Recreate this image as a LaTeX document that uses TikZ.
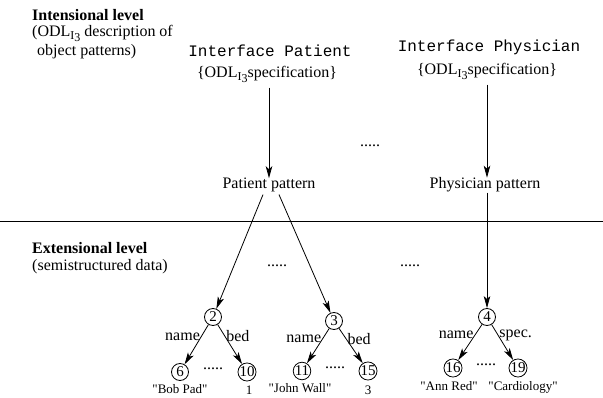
\documentclass[tikz,border=0pt]{standalone}
\usepackage{fontspec}
\setmainfont{Liberation Serif}
\setmonofont{Liberation Mono}
\usetikzlibrary{arrows.meta}

% ODL with its nested I_3 subscript (kept out of the line's depth)
\newcommand{\odlname}{ODL\smash{\raisebox{-2.5pt}{\fontsize{12}{12}\selectfont I\raisebox{-2.5pt}{3}}}}
\newcommand{\qt}[1]{\textquotedbl#1\textquotedbl}

\begin{document}
\begin{tikzpicture}[x=1pt,y=-1pt,
  txt/.style={font=\fontsize{16}{19}\selectfont, inner sep=0pt},
  code/.style={font=\fontsize{16}{19}\selectfont\ttfamily, inner sep=0pt},
  small/.style={font=\fontsize{13}{15}\selectfont, inner sep=0pt},
  obj/.style={circle, draw, line width=0.8pt, minimum size=17pt, inner sep=0pt,
              font=\fontsize{15}{15}\selectfont},
  link/.style={line width=0.8pt, -{Stealth[length=12pt,width=6.5pt,inset=3pt]}},
  lab/.style={font=\fontsize{16}{19}\selectfont, inner sep=1pt},
  rule/.style={line width=0.8pt}
]
\useasboundingbox (0,0) rectangle (603,398);

% level captions
\node[txt, anchor=base west] (intHead) at (32,21) {\bfseries Intensional level};
\node[txt, anchor=base west] (intSub1) at (32,37) {(\odlname{} description of};
\node[txt, anchor=base west] (intSub2) at (37,56) {object patterns)};
\node[txt, anchor=base west] (extHead) at (32,254) {\bfseries Extensional level};
\node[txt, anchor=base west] (extSub) at (32,271) {(semistructured data)};

% separator between the two levels
\coordinate (ruleL) at (0,221.7);
\coordinate (ruleR) at (603,221.7);
\draw[rule] (ruleL) -- (ruleR);

% interfaces
\node[code, anchor=base] (ifP) at (270,57) {Interface Patient};
\node[txt, anchor=base] (specP) at (267,78) {\{\odlname specification\}};
\node[code, anchor=base] (ifPh) at (489,52) {Interface Physician};
\node[txt, anchor=base] (specPh) at (487,75) {\{\odlname specification\}};

% patterns
\node[txt, anchor=base] (patP) at (269,189) {Patient pattern};
\node[txt, anchor=base] (patPh) at (485,189) {Physician pattern};
\node[txt] (dotsTop) at (370,146) {.....};

\draw[link] ([yshift=-6pt]specP.south -| patP.north) -- (patP.north);
\draw[link] ([yshift=-6pt]specPh.south) -- (specPh.south |- patPh.north);

% objects
\node[obj] (n2) at (213,317) {2};
\node[obj] (n3) at (334,321) {3};
\node[obj] (n4) at (487,317) {4};
\node[obj] (n6) at (180,372) {6};
\node[obj] (n10) at (247,372) {10};
\node[obj] (n11) at (302,371) {11};
\node[obj] (n15) at (368,371) {15};
\node[obj] (n16) at (453,368) {16};
\node[obj] (n19) at (518,368) {19};

\node[txt] (dotsMid) at (277,266) {.....};
\node[txt] (dotsRight) at (410,266) {.....};
\node[txt] (dotsA) at (213,369) {.....};
\node[txt] (dotsB) at (335,368) {.....};
\node[txt] (dotsC) at (486,365) {.....};

% pattern instances
\draw[link] ([xshift=-6pt,yshift=-2pt]patP.south) -- (n2);
\draw[link] ([xshift=10pt,yshift=-2pt]patP.south) -- (n3);
\draw[link] (n4 |- patPh.south) -- (n4);

% attributes
\draw[link] (n2) -- node[lab, pos=0.3, anchor=east] (l2a) {name} (n6);
\draw[link] (n2) -- node[lab, pos=0.3, anchor=west] (l2b) {bed} (n10);
\draw[link] (n3) -- node[lab, pos=0.3, anchor=east] (l3a) {name} (n11);
\draw[link] (n3) -- node[lab, pos=0.3, anchor=west] (l3b) {bed} (n15);
\draw[link] (n4) -- node[lab, pos=0.3, anchor=east] (l4a) {name} (n16);
\draw[link] (n4) -- node[lab, pos=0.3, anchor=west] (l4b) {spec.} (n19);

% atomic values
\node[small, anchor=base] (v6) at (180,393) {\qt{Bob Pad}};
\node[small, anchor=base] (v10) at (249,394) {1};
\node[small, anchor=base] (v11) at (300,392) {\qt{John Wall}};
\node[small, anchor=base] (v15) at (368,394) {3};
\node[small, anchor=base] (v16) at (449,391) {\qt{Ann Red}};
\node[small, anchor=base] (v19) at (523,391) {\qt{Cardiology}};
\end{tikzpicture}
\end{document}
